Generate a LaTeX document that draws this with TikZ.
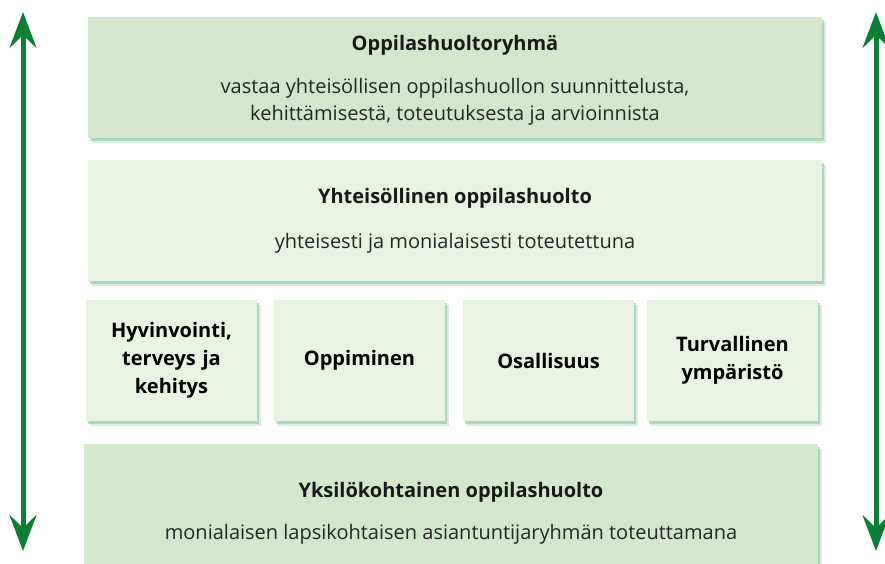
\documentclass[tikz,border=0pt]{standalone}
\usepackage{fontspec}
\setmainfont{Open Sans}
\usepackage{tikz}
\usetikzlibrary{positioning, arrows.meta, shadows}
\definecolor{boxdark}{RGB}{212,231,204}
\definecolor{boxlight}{RGB}{232,243,228}
\definecolor{arrowgreen}{RGB}{10,128,52}
\definecolor{shadowgreen}{RGB}{110,185,140}

\begin{document}
\begin{tikzpicture}[x=1pt, y=-1pt,
    box/.style={draw=none, inner sep=0pt,
        drop shadow={shadow xshift=4pt, shadow yshift=-5pt, fill=shadowgreen, opacity=0.25},
        drop shadow={shadow xshift=2pt, shadow yshift=-3pt, fill=shadowgreen, opacity=0.45}},
    wide/.style={box, minimum width=734pt, minimum height=121pt},
    small/.style={box, fill=boxlight, minimum width=171pt, minimum height=121pt,
        text width=160pt, align=center, font=\fontsize{20}{28}\selectfont\bfseries},
    title/.style={font=\fontsize{20}{22}\selectfont\bfseries, text=black!90},
    body/.style={font=\fontsize{20}{27}\selectfont, text=black!85, align=center},
    twoway/.style={{Stealth[length=36pt, width=27pt, inset=13pt]}-{Stealth[length=36pt, width=27pt, inset=13pt]},
        line width=5pt, arrowgreen}]
    \useasboundingbox (0,0) rectangle (885,563);

    % Top: the group itself
    \node[wide, fill=boxdark] (ryhma) at (455,77.5) {};
    \node[title] (ryhmaT) at (455,45) {Oppilashuoltoryhmä};
    \node[body] (ryhmaB) at (455,102) {vastaa yhteisöllisen oppilashuollon suunnittelusta,\\kehittämisestä, toteutuksesta ja arvioinnista};

    % Communal pupil welfare
    \node[wide, fill=boxlight] (yht) at (455,220) {};
    \node[title] (yhtT) at (455,198) {Yhteisöllinen oppilashuolto};
    \node[body] (yhtB) at (455,243) {yhteisesti ja monialaisesti toteutettuna};

    % Four themes
    \node[small] (hyv) at (171.5,360.5) {Hyvinvointi,\\terveys ja\\kehitys};
    \node[small] (opp) at (359.5,360.5) {Oppiminen};
    \node[small] (osa) at (548.5,360.5) {Osallisuus};
    \node[small] (tur) at (732.5,360.5) {Turvallinen\\ympäristö};

    % Bottom: individual pupil welfare
    \node[wide, fill=boxdark] (yks) at (451,504) {};
    \node[title] (yksT) at (451,492) {Yksilökohtainen oppilashuolto};
    \node[body] (yksB) at (451,534) {monialaisen lapsikohtaisen asiantuntijaryhmän toteuttamana};

    % Arrows on both sides
    \coordinate (lTop) at (23,12);
    \coordinate (lBot) at (23,551);
    \coordinate (rTop) at (876,12);
    \coordinate (rBot) at (876,551);
    \draw[twoway] (lTop) -- (lBot);
    \draw[twoway] (rTop) -- (rBot);
\end{tikzpicture}
\end{document}
